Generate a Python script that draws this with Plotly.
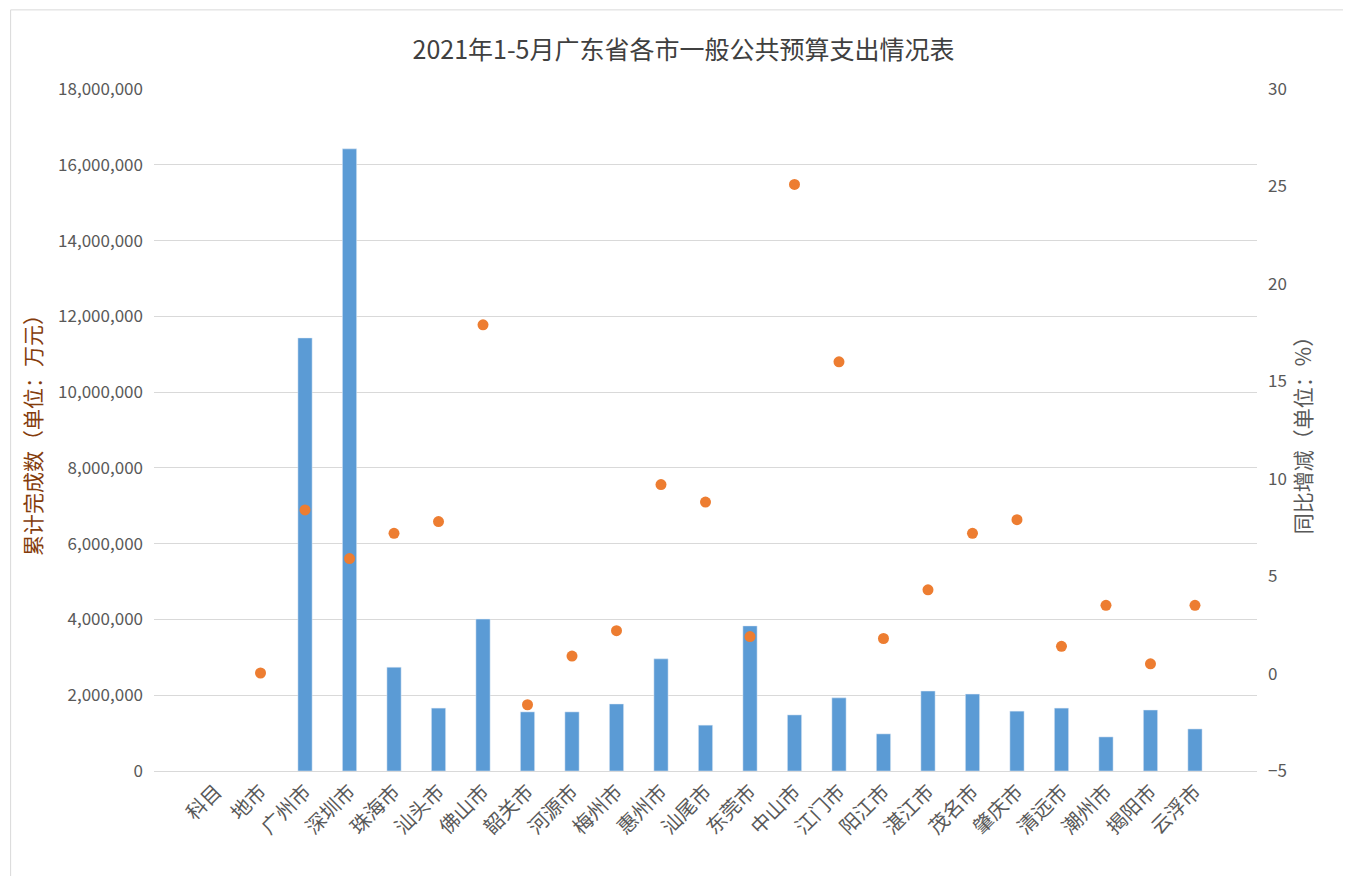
import plotly.graph_objects as go

cities = ["科目", "地市", "广州市", "深圳市", "珠海市", "汕头市", "佛山市", "韶关市", "河源市", "梅州市",
          "惠州市", "汕尾市", "东莞市", "中山市", "江门市", "阳江市", "湛江市", "茂名市", "肇庆市",
          "清远市", "潮州市", "揭阳市", "云浮市"]
spend = [None, None, 11430000, 16420000, 2740000, 1660000, 4010000, 1560000, 1560000, 1770000,
         2960000, 1210000, 3830000, 1480000, 1930000, 980000, 2110000, 2030000, 1580000,
         1660000, 900000, 1610000, 1110000]
growth = [None, 0.03, 8.4, 5.9, 7.2, 7.8, 17.9, -1.6, 0.9, 2.2,
          9.7, 8.8, 1.9, 25.1, 16.0, 1.8, 4.3, 7.2, 7.9,
          1.4, 3.5, 0.5, 3.5]

font = "Noto Sans CJK SC"
fig = go.Figure()
fig.add_trace(go.Bar(x=cities, y=spend, marker_color="#5B9BD5", width=0.32, name="累计完成数"))
fig.add_trace(go.Scatter(x=cities, y=growth, mode="markers", yaxis="y2",
                         marker=dict(color="#ED7D31", size=11), name="同比增减"))

fig.update_layout(
    width=1351, height=876, paper_bgcolor="white", plot_bgcolor="white",
    font=dict(family=font, color="#595959", size=17),
    title=dict(text="2021年1-5月广东省各市一般公共预算支出情况表", x=0.5, y=0.962,
               font=dict(size=25, color="#404040")),
    showlegend=False,
    margin=dict(l=146, r=102, t=81, b=113, autoexpand=False),
    xaxis=dict(tickangle=-45, tickfont=dict(size=20), showline=True, linecolor="#D9D9D9",
               automargin=False),
    yaxis=dict(range=[0, 18000000], dtick=2000000, tickformat=",", gridcolor="#D9D9D9",
               automargin=False, ticklabelstandoff=10,
               title=dict(text="累计完成数（单位：万元）", font=dict(size=21, color="#843C0C"), standoff=10),
               zeroline=False),
    yaxis2=dict(range=[-5, 30], dtick=5, overlaying="y", side="right", showgrid=False,
                zeroline=False, automargin=False, ticklabelstandoff=10,
                title=dict(text="同比增减（单位：%）", font=dict(size=21, color="#595959"), standoff=10)),
    shapes=[dict(type="rect", xref="paper", yref="paper", x0=-0.13, x1=1.09, y0=-0.163, y1=1.116,
                 line=dict(color="#D9D9D9", width=1))],
)
fig.write_html("out.html")
